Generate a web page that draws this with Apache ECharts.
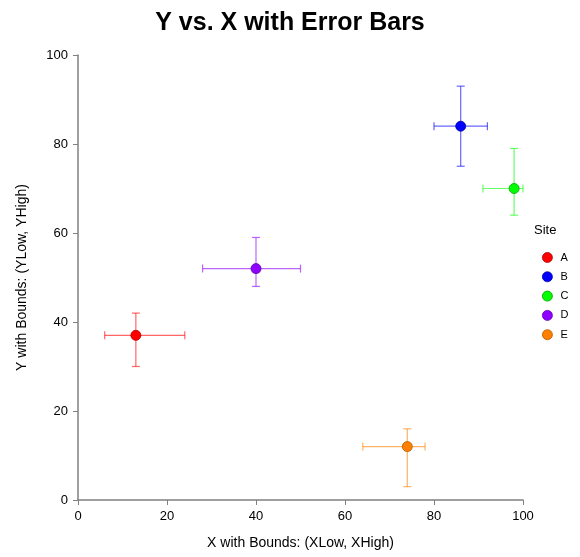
<!DOCTYPE html>
<html><head><meta charset="utf-8">
<script src="https://cdn.jsdelivr.net/npm/echarts@6/dist/echarts.min.js"></script>
<style>html,body{margin:0;padding:0;background:#fff}#c{width:580px;height:557px}</style>
</head><body><div id="c"></div>
<script>
const sites = ['A','B','C','D','E'];
const xVals = [13, 86, 98, 40, 74];
const xLow  = [6, 80, 91, 28, 64];
const xHigh = [24, 92, 100, 50, 78];
const yVals = [37, 84, 70, 52, 12];
const yLow  = [30, 75, 64, 48, 3];
const yHigh = [42, 93, 79, 59, 16];
const colors = ['#FF0000','#0000FF','#00FF00','#9000FF','#FF8000'];
const borders = ['#B00000','#0000A0','#00A000','#6000B0','#B05800'];

const FONT = 'Liberation Sans, Arial, sans-serif';
const chart = echarts.init(document.getElementById('c'));
const series = [];
sites.forEach((s,i)=>{
  series.push({
    type:'custom', name:s, silent:true, z:1,
    data:[[xVals[i], yVals[i], xLow[i], xHigh[i], yLow[i], yHigh[i]]],
    renderItem:(params, api)=>{
      const c = api.coord([api.value(0), api.value(1)]);
      const xl = api.coord([api.value(2), api.value(1)]);
      const xh = api.coord([api.value(3), api.value(1)]);
      const yl = api.coord([api.value(0), api.value(4)]);
      const yh = api.coord([api.value(0), api.value(5)]);
      const cap = 4;
      const st = {stroke: colors[i], lineWidth: 1.2, opacity: 0.6};
      const L = (x1,y1,x2,y2)=>({type:'line', shape:{x1,y1,x2,y2}, style:st});
      return {type:'group', children:[
        L(xl[0],c[1],xh[0],c[1]),
        L(xl[0],c[1]-cap,xl[0],c[1]+cap),
        L(xh[0],c[1]-cap,xh[0],c[1]+cap),
        L(c[0],yl[1],c[0],yh[1]),
        L(c[0]-cap,yl[1],c[0]+cap,yl[1]),
        L(c[0]-cap,yh[1],c[0]+cap,yh[1])
      ]};
    }
  });
  series.push({
    type:'scatter', name:s, z:3, symbol:'circle', symbolSize:10,
    itemStyle:{color:colors[i], borderColor:borders[i], borderWidth:0.8, opacity:1},
    data:[[xVals[i], yVals[i]]]
  });
});

chart.setOption({
  animation:false,
  backgroundColor:'#fff',
  title:[
    {text:'Y vs. X with Error Bars', left:'center', top:6,
     textStyle:{fontFamily:FONT, fontSize:25, fontWeight:'bold', color:'#000'}},
    {text:'Site', left:529, top:219,
     textStyle:{fontFamily:FONT, fontSize:13, fontWeight:'normal', color:'#000'}}
  ],
  legend:{
    orient:'vertical', left:537, top:247, itemGap:8.3, itemWidth:10, itemHeight:10,
    icon:'circle', data:sites.map((s,i)=>({name:s, itemStyle:{color:colors[i], borderColor:borders[i], borderWidth:0.8}})),
    textStyle:{fontFamily:FONT, fontSize:11, color:'#000', padding:[0,0,0,3]}
  },
  grid:{left:78, right:57, top:55, bottom:57},
  xAxis:{
    type:'value', min:0, max:100, interval:20,
    name:'X with Bounds: (XLow, XHigh)', nameLocation:'middle', nameGap:36,
    nameTextStyle:{fontFamily:FONT, fontSize:14, color:'#000'},
    axisLine:{show:true, lineStyle:{color:'#808080', width:1.5}},
    axisTick:{show:true, length:5, lineStyle:{color:'#808080'}},
    axisLabel:{fontFamily:FONT, fontSize:13, color:'#000', margin:10},
    splitLine:{show:false}
  },
  yAxis:{
    type:'value', min:0, max:100, interval:20,
    name:'Y with Bounds: (YLow, YHigh)', nameLocation:'middle', nameGap:49,
    nameTextStyle:{fontFamily:FONT, fontSize:14, color:'#000'},
    axisLine:{show:true, lineStyle:{color:'#808080', width:1.5}},
    axisTick:{show:true, length:5, lineStyle:{color:'#808080'}},
    axisLabel:{fontFamily:FONT, fontSize:13, color:'#000', margin:10},
    splitLine:{show:false}
  },
  series:series
});
</script></body></html>
